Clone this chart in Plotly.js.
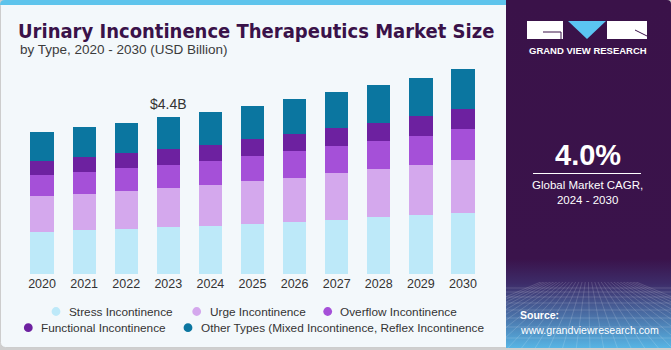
<!DOCTYPE html>
<html>
<head>
<meta charset="utf-8">
<script src="https://cdn.plot.ly/plotly-3.0.1.min.js"></script>
<style>
html,body{margin:0;padding:0;background:#f3f8fb;}
#chart{width:671px;height:350px;}
</style>
</head>
<body>
<div id="chart"></div>
<script>
// ---- data ----
const years = ['2020','2021','2022','2023','2024','2025','2026','2027','2028','2029','2030'];
const seriesNames = ['Stress Incontinence','Urge Incontinence','Overflow Incontinence','Functional Incontinence','Other Types (Mixed Incontinence, Reflex Incontinence'];
const stress     = [1.19,1.22,1.27,1.31,1.35,1.41,1.46,1.52,1.59,1.65,1.72];
const urge       = [0.99,1.02,1.06,1.10,1.15,1.20,1.24,1.30,1.36,1.41,1.48];
const overflow   = [0.60,0.63,0.64,0.66,0.68,0.71,0.75,0.76,0.79,0.82,0.87];
const functional = [0.40,0.40,0.42,0.44,0.45,0.46,0.48,0.50,0.50,0.54,0.55];
const other      = [0.81,0.84,0.85,0.89,0.91,0.94,0.97,1.01,1.06,1.08,1.12];
const seriesValues = [stress, urge, overflow, functional, other];
const highlightYear = '2023';
const titleText = 'Urinary Incontinence Therapeutics Market Size';
const subtitleText = 'by Type, 2020 - 2030 (USD Billion)';
const cagrText = '4.0%';
const cagrLabel = 'Global Market CAGR,<br>2024 - 2030';

// ---- styles ----
const colors = ['#bde9f9','#d4a8ed','#a550d8','#6d21a0','#0b76a0'];
const W = 671, H = 350;
const L = 21, R = 484, T = 60, B = 274;
const px = x => (x - L) / (R - L);
const py = y => (B - y) / (B - T);
const FONT = 'Liberation Sans, Arial, sans-serif';

const traces = seriesNames.map((n, i) => ({
  type: 'bar', name: n, x: years, y: seriesValues[i],
  marker: {color: colors[i], line: {width: 0}},
  showlegend: false, hoverinfo: 'x+y+name'
}));

const hIdx = years.indexOf(highlightYear);
const hTotal = seriesValues.reduce((s, arr) => s + arr[hIdx], 0);

// background svg (decorative panels)
let grid = '';
[288,292,297,303,310,318,327,338,350].forEach(y => { grid += `<line x1='506' y1='${y}' x2='671' y2='${y}'/>`; });
for (let x = 380; x <= 800; x += 14) { grid += `<line x1='588' y1='262' x2='${x}' y2='350'/>`; }
const svg = `<svg xmlns='http://www.w3.org/2000/svg' width='671' height='350' viewBox='0 0 671 350'>
<defs><linearGradient id='g' x1='0' y1='0' x2='0' y2='350' gradientUnits='userSpaceOnUse'>
<stop offset='0' stop-color='#3a1249'/><stop offset='0.74' stop-color='#3a134b'/><stop offset='0.81' stop-color='#3d2c69'/><stop offset='1' stop-color='#58b9e8'/></linearGradient>
<clipPath id='c'><rect x='506' y='282' width='165' height='66'/></clipPath></defs>
<rect width='671' height='350' fill='#cfcfcf'/>
<rect x='0.5' y='0.5' width='510' height='347' rx='5' fill='#f3f8fb' stroke='#cdcdcd'/>
<path d='M0,6 L0,5 Q0,0 5,0 L507,0 L507,5 L0,5 Z' fill='#5ec4ec'/>
<path d='M506,0 L667,0 Q671,0 671,4 L671,348 L506,348 Z' fill='url(#g)'/>
<g clip-path='url(#c)' stroke='#ffffff' stroke-opacity='0.22' stroke-width='0.7' fill='none'>${grid}</g>
<rect x='527' y='21' width='36' height='18' fill='#ffffff'/>
<path d='M543,32 H561 V39' stroke='#3a1249' stroke-width='1' fill='none'/>
<polygon points='568,21 606,21 587,39' fill='#5bc5f2'/>
<rect x='607' y='21' width='40' height='18' fill='#ffffff'/>
<path d='M635,30 L647,36' stroke='#3a1249' stroke-width='1'/>
</svg>`;
const svgUri = 'data:image/svg+xml;charset=utf-8,' + encodeURIComponent(svg);

const annotations = [];
const shapes = [];
annotations.push({xref:'paper', yref:'paper', x: px(18), y: py(49), xanchor:'left', yanchor:'middle',
  text: subtitleText, showarrow:false, font:{family:FONT, size:13.5, color:'#3b3b3b'}});
annotations.push({xref:'x', yref:'y', x: hIdx, y: hTotal, xanchor:'center', yanchor:'bottom', yshift: 3,
  text: '$' + hTotal.toFixed(1) + 'B', showarrow:false, font:{family:FONT, size:14, color:'#333333'}});

// legend (manual, centered rows)
const legendPos = [
  {cx:56, cy:311.5, tx:67}, {cx:196.7, cy:311.5, tx:208}, {cx:327.7, cy:311.5, tx:338},
  {cx:28.3, cy:327.7, tx:39}, {cx:188, cy:327.7, tx:199}
];
seriesNames.forEach((n, i) => {
  const p = legendPos[i], r = 4.4;
  shapes.push({type:'circle', xref:'paper', yref:'paper', x0:px(p.cx-r), x1:px(p.cx+r), y0:py(p.cy+r), y1:py(p.cy-r),
    fillcolor: colors[i], line:{width:0}});
  annotations.push({xref:'paper', yref:'paper', x:px(p.tx), y:py(p.cy), xanchor:'left', yanchor:'middle',
    text:n, showarrow:false, font:{family:FONT, size:11.8, color:'#333333'}});
});

// right panel texts
annotations.push({xref:'paper', yref:'paper', x:px(587.5), y:py(51), xanchor:'center', yanchor:'middle',
  text:'GRAND VIEW RESEARCH', showarrow:false, font:{family:FONT, size:9.5, color:'#ffffff', weight:'bold'}});
annotations.push({xref:'paper', yref:'paper', x:px(587.5), y:py(154.5), xanchor:'center', yanchor:'middle',
  text:cagrText, showarrow:false, font:{family:FONT, size:29, color:'#ffffff', weight:'bold'}});
shapes.push({type:'line', xref:'paper', yref:'paper', x0:px(533), x1:px(641), y0:py(173.5), y1:py(173.5),
  line:{color:'#ffffff', width:1}});
annotations.push({xref:'paper', yref:'paper', x:px(587.5), y:py(192.5), xanchor:'center', yanchor:'middle',
  text:cagrLabel, showarrow:false, font:{family:FONT, size:11.5, color:'#ffffff'}});
annotations.push({xref:'paper', yref:'paper', x:px(518), y:py(315), xanchor:'left', yanchor:'middle',
  text:'<b>Source:</b>', showarrow:false, font:{family:FONT, size:10.5, color:'#ffffff'}});
annotations.push({xref:'paper', yref:'paper', x:px(518), y:py(330), xanchor:'left', yanchor:'middle',
  text:'www.grandviewresearch.com', showarrow:false, font:{family:FONT, size:10.6, color:'#ffffff'}});

const layout = {
  width: W, height: H,
  margin: {l: L, r: W - R, t: T, b: H - B, pad: 0},
  paper_bgcolor: '#f3f8fb', plot_bgcolor: 'rgba(0,0,0,0)',
  barmode: 'stack', bargap: 0.447,
  title: {text: titleText, x: 18 / W, xanchor: 'left', xref: 'container', y: 1 - 31 / H, yanchor: 'middle', yref: 'container',
    font: {family: 'DejaVu Sans Condensed, DejaVu Sans, sans-serif', size: 20, color: '#3a1249', weight: 'bold'}},
  xaxis: {type: 'category', range: [-0.5, years.length - 0.5], showgrid: false, zeroline: false, showline: false, ticks: '',
    tickfont: {family: FONT, size: 12.5, color: '#333333'}, fixedrange: true},
  yaxis: {range: [0, 6], visible: false, showgrid: false, zeroline: false, fixedrange: true},
  showlegend: false,
  images: [{source: svgUri, xref: 'paper', yref: 'paper', x: px(0), y: py(0), sizex: W / (R - L), sizey: H / (B - T),
    xanchor: 'left', yanchor: 'top', sizing: 'stretch', layer: 'below'}],
  annotations: annotations,
  shapes: shapes
};

Plotly.newPlot('chart', traces, layout, {displayModeBar: false, staticPlot: true});
</script>
</body>
</html>
